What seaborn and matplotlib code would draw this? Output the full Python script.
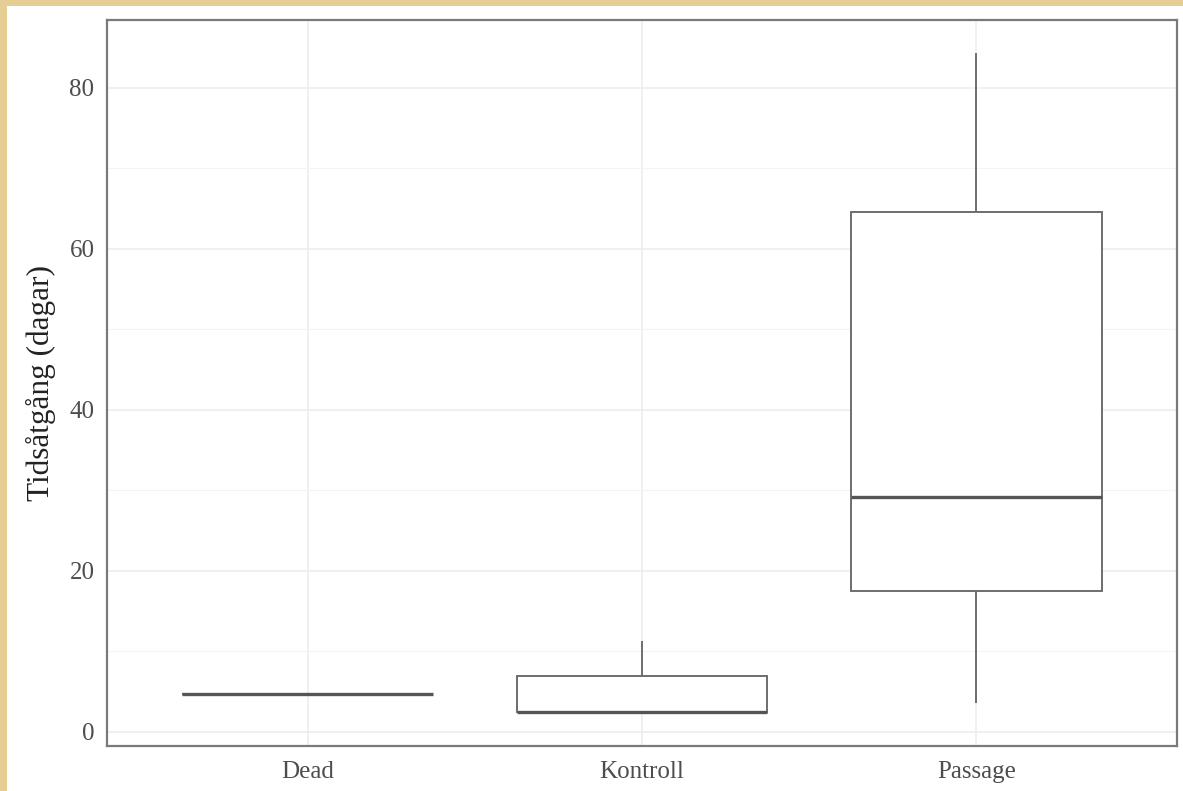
import pandas as pd
import matplotlib
matplotlib.use("Agg")
import matplotlib.pyplot as plt
from matplotlib.patches import Rectangle
from matplotlib.ticker import MultipleLocator
import seaborn as sns

# five-number summaries (min, Q1, median, Q3, max)
groups = ["Dead", "Kontroll", "Passage"]
dead_vals = [4.7]
kontroll_vals = [2.5, 2.5, 2.5, 7.0, 11.3]
passage_vals = [3.6, 17.5, 29.2, 64.6, 84.3]
y_ticks = [0, 20, 40, 60, 80]

df = pd.DataFrame({
    "grupp": ["Dead"] * len(dead_vals) + ["Kontroll"] * len(kontroll_vals) + ["Passage"] * len(passage_vals),
    "dagar": dead_vals + kontroll_vals + passage_vals,
})

sns.set_style("white")
plt.rcParams["font.family"] = ["Liberation Serif", "DejaVu Serif"]

fig = plt.figure(figsize=(11.83, 7.91), dpi=100)
fig.patch.set_facecolor("white")
# parchment edge on left and top
fig.patches.append(Rectangle((0, 0), 7 / 1183, 1, transform=fig.transFigure,
                             facecolor="#e6cd93", edgecolor="none", zorder=0))
fig.patches.append(Rectangle((0, 1 - 6 / 791), 1, 6 / 791, transform=fig.transFigure,
                             facecolor="#e6cd93", edgecolor="none", zorder=0))

ax = fig.add_axes([107 / 1183, 1 - 746 / 791, 1070 / 1183, 726 / 791])

line_col = "#6e6e6e"
sns.boxplot(data=df, x="grupp", y="dagar", order=groups, ax=ax,
            color="white", fill=True, width=0.75, whis=1.5,
            linecolor=line_col, linewidth=1.4, showcaps=False, fliersize=0,
            medianprops=dict(color="#555555", linewidth=2.4), zorder=3)

ax.set_xlim(-0.6, 2.6)
ax.set_ylim(-1.75, 88.4)
ax.set_yticks(y_ticks)
ax.yaxis.set_minor_locator(MultipleLocator(10))

ax.grid(True, which="major", color="#ececec", linewidth=1.1, zorder=0)
ax.grid(True, which="minor", axis="y", color="#f4f4f4", linewidth=0.8, zorder=0)
ax.set_axisbelow(True)

for s in ax.spines.values():
    s.set_visible(True)
    s.set_color("#7a7a7a")
    s.set_linewidth(1.6)

ax.tick_params(axis="both", which="major", length=4, width=1.2, color="#7a7a7a",
               labelcolor="#4d4d4d", labelsize=18)
ax.tick_params(axis="y", which="major", pad=5)
ax.tick_params(axis="x", which="major", pad=7)
ax.tick_params(axis="y", which="minor", length=0)
ax.set_xlabel("")
ax.set_ylabel("Tidsåtgång (dagar)", fontsize=22.5, color="#222222", labelpad=10)

fig.savefig("out.png", dpi=100)
